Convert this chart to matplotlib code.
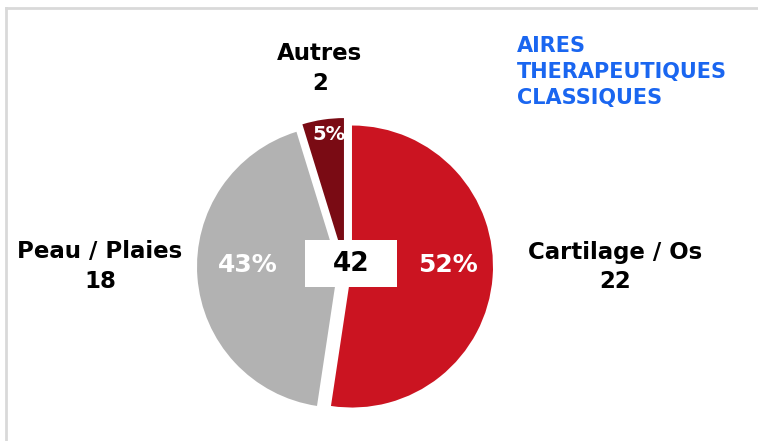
import matplotlib
matplotlib.use("Agg")
import matplotlib.pyplot as plt
from matplotlib.lines import Line2D
from matplotlib.patches import Rectangle

categories = ["Cartilage / Os", "Peau / Plaies", "Autres"]
counts = [22, 18, 2]
pct_labels = ["52%", "43%", "5%"]
colors = ["#CB1421", "#B2B2B2", "#7A0B14"]
total = 42
title_lines = ["AIRES", "THERAPEUTIQUES", "CLASSIQUES"]

W, H = 758, 441
fig = plt.figure(figsize=(W / 100, H / 100), dpi=100)
ax = fig.add_axes([0, 0, 1, 1])
ax.axis("off")

# frame lines (top and left)
fig.add_artist(Line2D([5.5 / W, 5.5 / W], [0, 1 - 7.5 / H], color="#D9D9D9", lw=2))
fig.add_artist(Line2D([5.5 / W, 1], [1 - 7.5 / H, 1 - 7.5 / H], color="#D9D9D9", lw=2))

cx, cy, r = 345, H - 266, 141
ax.pie(counts, colors=colors, startangle=90, counterclock=False,
       center=(cx, cy), radius=r, explode=[7, 7, 7],
       wedgeprops=dict(linewidth=0), frame=False)
ax.set_xlim(0, W)
ax.set_ylim(0, H)
ax.set_aspect("equal")

# percentages inside
pct_pos = [(448, 265), (248, 265), (329, 135)]
pct_sizes = [18, 18, 14]
for (x, y), t, s in zip(pct_pos, pct_labels, pct_sizes):
    ax.text(x, H - y, t, color="white", fontsize=s, fontweight="bold",
            ha="center", va="center")

# center box
ax.add_patch(Rectangle((305, H - 287), 92, 47, fc="white", ec="none", zorder=5))
ax.text(351, H - 264, str(total), color="black", fontsize=19, fontweight="bold",
        ha="center", va="center", zorder=6)

# outside labels
lab_pos = [(615, 252), (100, 252), (320, 53)]
for (x, y), name, n in zip(lab_pos, categories, counts):
    ax.text(x, H - y, name, color="black", fontsize=16.5, fontweight="bold",
            ha="center", va="center")
    ax.text(x, H - y - 30, str(n), color="black", fontsize=16.5, fontweight="bold",
            ha="center", va="center")

# title
for i, line in enumerate(title_lines):
    ax.text(517, H - 46 - i * 26, line, color="#1A66F0", fontsize=15,
            fontweight="bold", ha="left", va="center")

fig.savefig("out.png", dpi=100, facecolor="white")
